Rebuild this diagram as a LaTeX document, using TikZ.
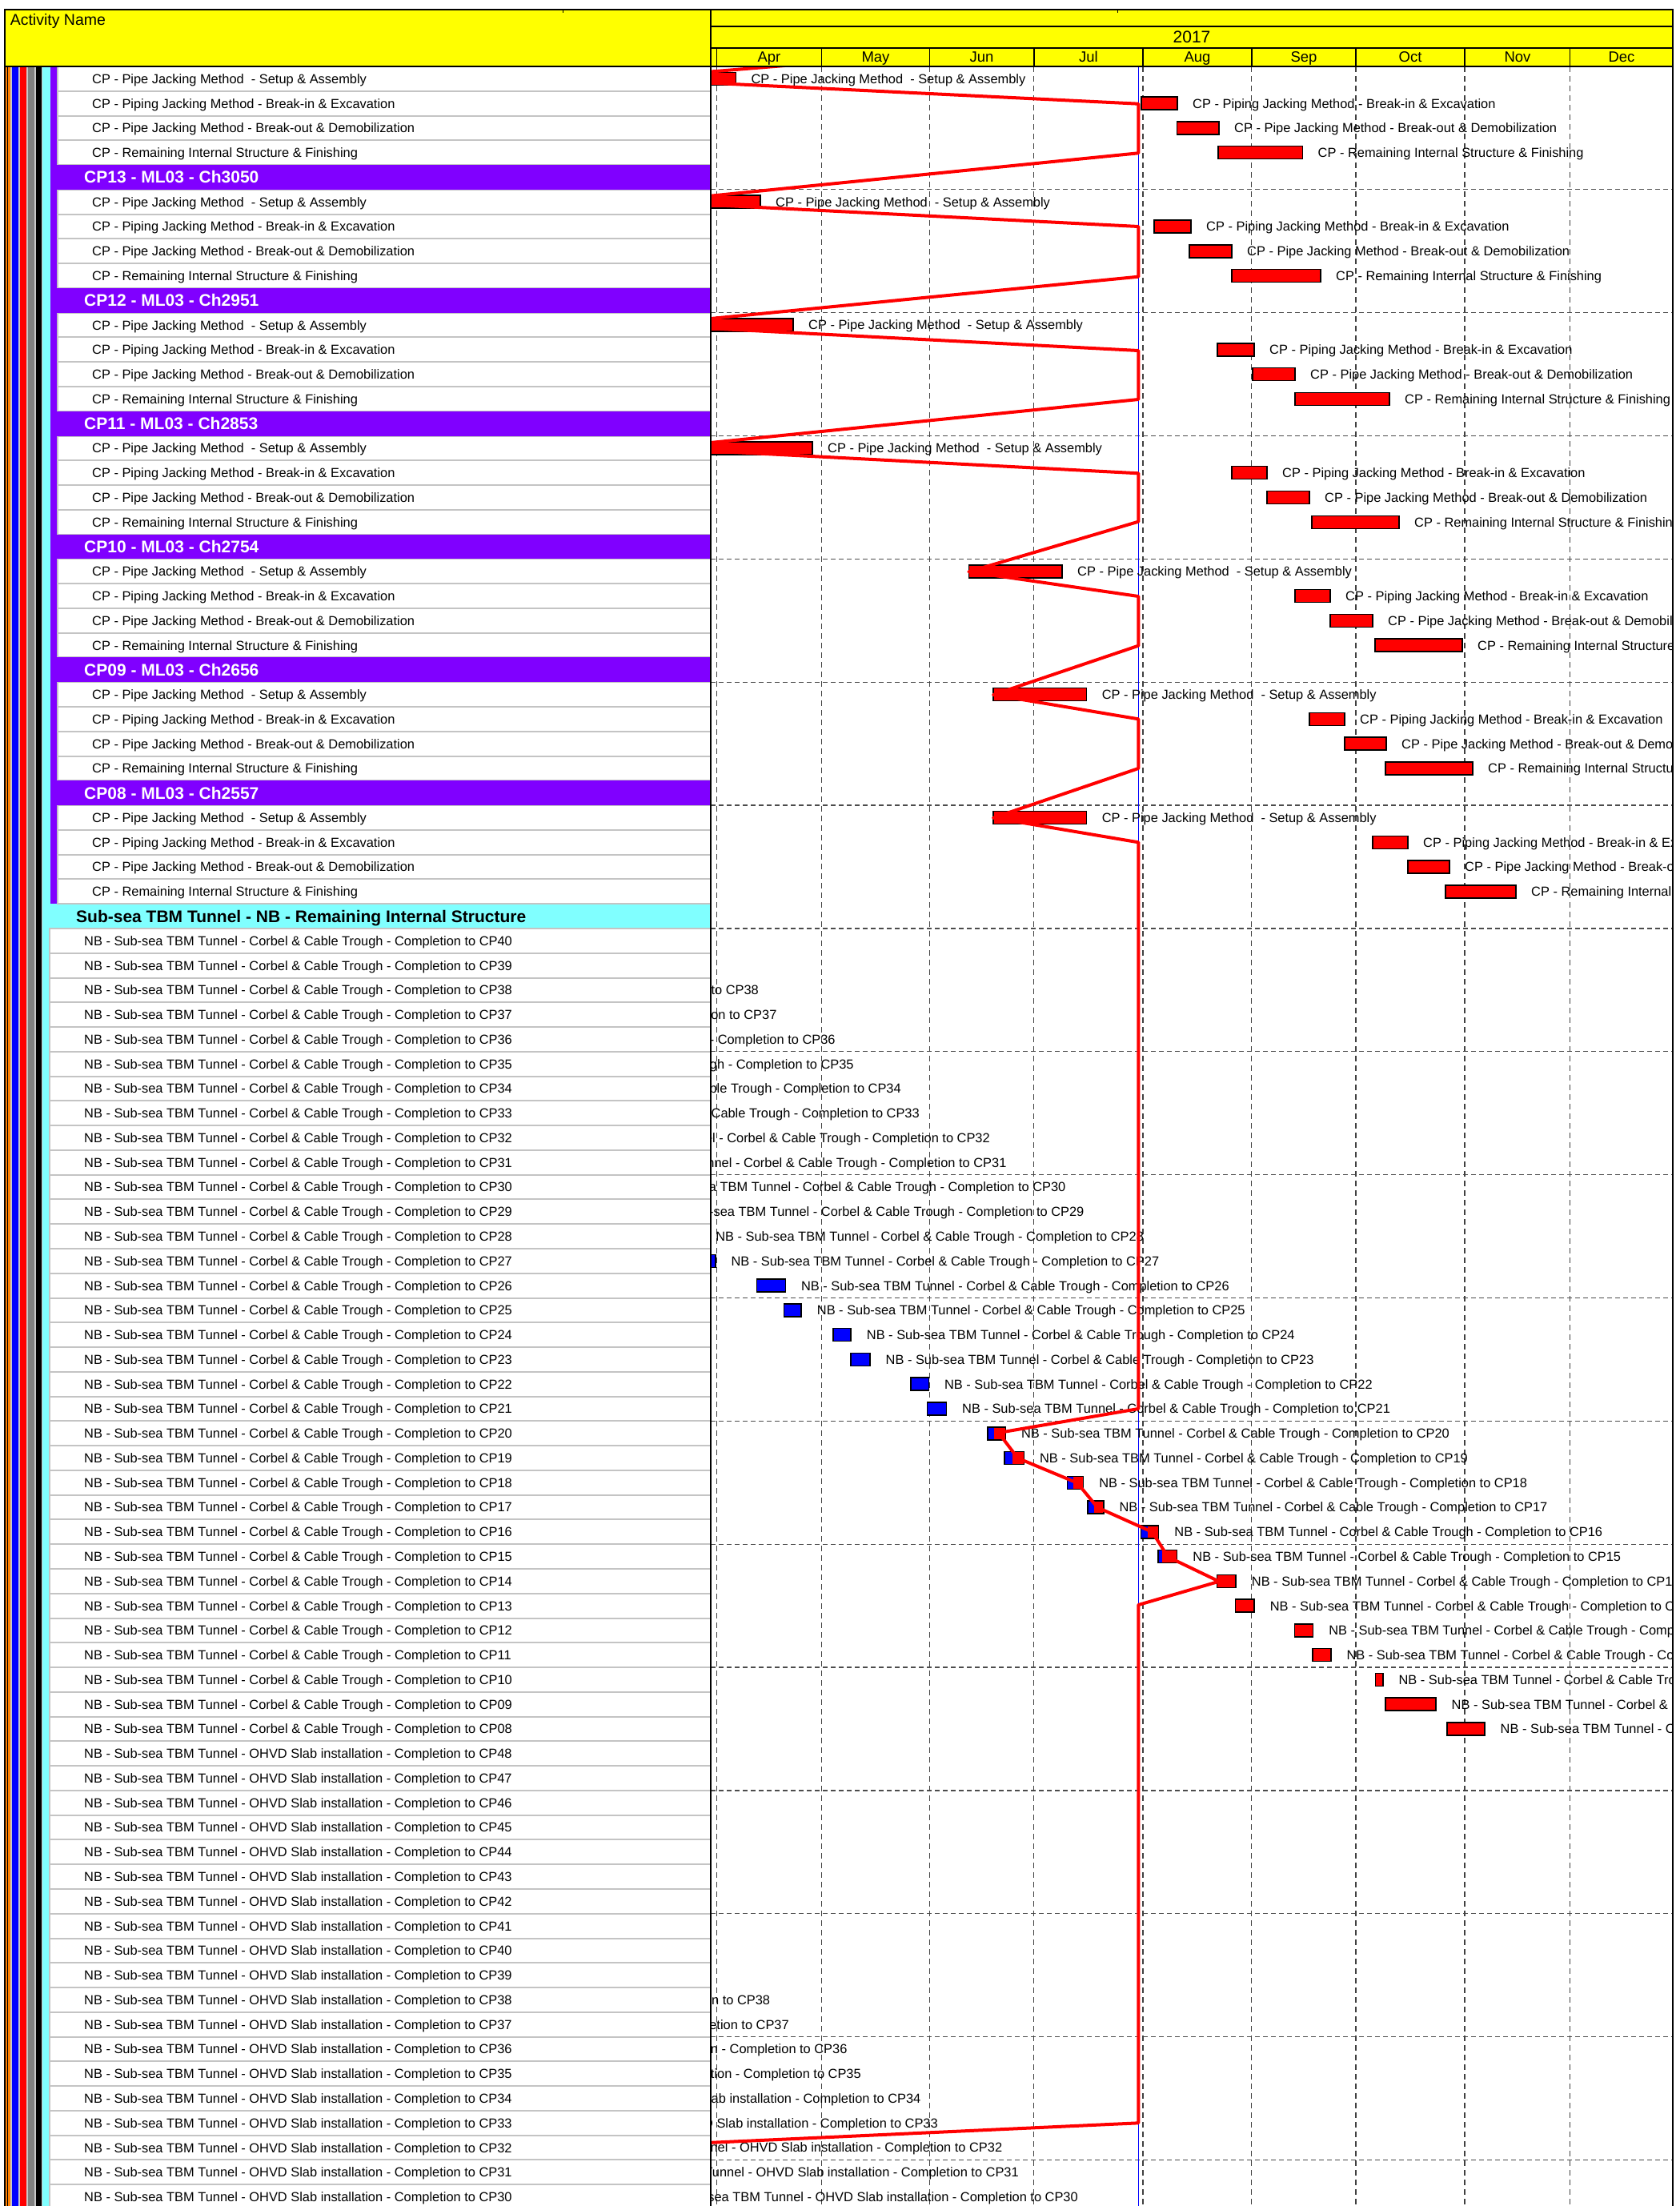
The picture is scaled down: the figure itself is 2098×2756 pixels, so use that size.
\documentclass[tikz,border=0pt]{standalone}
\usepackage{fontspec}
\setmainfont{Liberation Sans}
\definecolor{pgrey}{HTML}{C4C4C4}
\definecolor{gapg}{HTML}{C8C8C8}
\definecolor{purp}{HTML}{8000FF}
\definecolor{cyanb}{HTML}{80FFFF}
\definecolor{orng}{HTML}{FF8000}
\definecolor{yel}{HTML}{FFFF00}
\newcommand\txtA{CP - Pipe Jacking Method~ - Setup \& Assembly}
\newcommand\txtB{CP - Piping Jacking Method - Break-in \& Excavation}
\newcommand\txtC{CP - Pipe Jacking Method - Break-out \& Demobilization}
\newcommand\txtD{CP - Remaining Internal Structure \& Finishing}
\newcommand\txtCor{NB - Sub-sea TBM Tunnel - Corbel \& Cable Trough - Completion to CP}
\newcommand\txtOh{NB - Sub-sea TBM Tunnel - OHVD Slab installation - Completion to CP}
\begin{document}
\begin{tikzpicture}[x=1pt,y=-1pt,
  tsk/.style={anchor=base west, inner sep=0pt, font=\fontsize{16.4}{19}\selectfont},
  tskE/.style={anchor=base east, inner sep=0pt, font=\fontsize{16.4}{19}\selectfont},
  grp/.style={anchor=base west, inner sep=0pt, font=\fontsize{21}{24}\selectfont\bfseries},
  hdr/.style={anchor=base, inner sep=0pt, font=\fontsize{18.5}{21}\selectfont},
  barframe/.style={draw=black, line width=1.5pt},
  mgrid/.style={draw=black!75, line width=1.2pt, dash pattern=on 7pt off 5pt},
  hgrid/.style={draw=black!70, line width=1.3pt, dash pattern=on 6pt off 4pt},
  rowbox/.style={fill=white, draw=pgrey, line width=2pt},
  prog/.style={draw=red, line width=4pt, line join=round}]
\useasboundingbox (0,0) rectangle (2098,2756);
\fill[white] (0,0) rectangle (2098,2756);

% ---------- left panel stripes ----------
\fill[orng] (6.7,83) rectangle (13.3,2756);
\draw[black, line width=0.7pt] (9.7,83) -- (9.7,2756);
\fill[gapg] (13.3,83) rectangle (15,2756);
\fill[blue] (15,83) rectangle (23.3,2756);
\fill[gapg] (23.3,83) rectangle (25,2756);
\fill[red] (25,83) rectangle (33.3,2756);
\fill[gapg] (33.3,83) rectangle (35,2756);
\fill[black!50] (35,83) rectangle (43.3,2756);
\fill[gapg] (43.3,83) rectangle (45,2756);
\fill[black] (45,83) rectangle (51.7,2756);
\fill[gapg] (51.7,83) rectangle (53.3,2756);
\fill[cyanb] (53.3,83) rectangle (888,2756);
\fill[purp] (63.3,83) rectangle (71.7,1129.2);

% CP group task rows
\foreach \g in {0,...,6}{
  \foreach \k/\t in {0/\txtA,1/\txtB,2/\txtC,3/\txtD}{
    \pgfmathtruncatemacro\r{5*\g+\k}
    \pgfmathsetmacro\yt{83+30.77*\r}
    \draw[rowbox] (71.7,\yt) rectangle (888,{\yt+30.77});
    \node[tsk] (n\r) at (115,{\yt+21.3}) {\t};
  }
}
% CP group headers
\foreach \r/\t in {4/CP13 - ML03 - Ch3050, 9/CP12 - ML03 - Ch2951, 14/CP11 - ML03 - Ch2853, 19/CP10 - ML03 - Ch2754, 24/CP09 - ML03 - Ch2656, 29/CP08 - ML03 - Ch2557}{
  \pgfmathsetmacro\yt{83+30.77*\r}
  \fill[purp] (63.3,\yt) rectangle (888,{\yt+30.77});
  \node[grp, text=white] (h\r) at (105,{\yt+22.9}) {\t};
}
% Sub-sea header
\node[grp] (h34) at (95,1152.1) {Sub-sea TBM Tunnel - NB - Remaining Internal Structure};
% Sub-sea rows
\foreach \r in {35,...,86}{
  \pgfmathsetmacro\yt{83+30.77*\r}
  \draw[rowbox] (62,\yt) rectangle (888,{\yt+30.77});
  \ifnum\r<68
    \pgfmathtruncatemacro\n{75-\r}
    \node[tsk] (n\r) at (105,{\yt+21.3}) {\txtCor\ifnum\n<10 0\fi\n};
  \else
    \pgfmathtruncatemacro\n{116-\r}
    \node[tsk] (n\r) at (105,{\yt+21.3}) {\txtOh\n};
  \fi
}

% ---------- chart area ----------
\begin{scope}
\clip (888,83) rectangle (2090,2756);
\foreach \k in {1,...,17}{
  \draw[hgrid] (888,{83+153.85*\k}) -- (2090,{83+153.85*\k});
}
\foreach \x in {895.3,1026.6,1161.3,1291.8,1428,1563.8,1694,1830,1961.6}{
  \draw[mgrid] (\x,83) -- (\x,2756);
}
\draw[blue, line width=1pt] (1422.3,83) -- (1422.3,2756);

% CP group bars
\foreach \r/\a/\b/\t in {
 0/780/919.4/\txtA, 1/1426/1471/\txtB, 2/1470.5/1523/\txtC, 3/1522/1627.5/\txtD,
 5/813/950/\txtA, 6/1442/1488/\txtB, 7/1486/1539/\txtC, 8/1539/1650/\txtD,
 10/806/991/\txtA, 11/1521/1567/\txtB, 12/1565/1618/\txtC, 13/1618/1736/\txtD,
 15/820/1015/\txtA, 16/1539/1583/\txtB, 17/1583/1636/\txtC, 18/1639/1748/\txtD,
 20/1210.3/1327/\txtA, 21/1618/1662/\txtB, 22/1662/1715/\txtC, 23/1718/1827/\txtD,
 25/1241/1357.6/\txtA, 26/1636/1680/\txtB, 27/1680/1732/\txtC, 28/1731/1840/\txtD,
 30/1241/1357.6/\txtA, 31/1715/1759/\txtB, 32/1759/1811/\txtC, 33/1806/1894/\txtD}{
  \pgfmathsetmacro\yc{83+30.77*(\r+0.5)}
  \fill[red] (\a,{\yc-8}) rectangle (\b,{\yc+8});
  \draw[barframe] (\a,{\yc-8}) rectangle (\b,{\yc+8});
  \node[tsk] (c\r) at ({\b+19},{\yc+5.9}) {\t};
}

% hidden-bar corbel labels
\foreach \r/\e/\n in {37/948.1/38, 38/970.7/37, 39/1043.8/36, 40/1066.8/35, 41/1126/34, 42/1149/33, 43/1237/32, 44/1257.7/31, 45/1331.6/30, 46/1354.6/29, 47/1429.2/28}{
  \pgfmathsetmacro\yc{83+30.77*(\r+0.5)}
  \node[tskE] (c\r) at (\e,{\yc+5.9}) {\txtCor\n};
}
% corbel bars (start / blue-red split / end)
\foreach \r/\a/\s/\b/\n in {48/860/893.8/893.8/27, 49/945.5/981.3/981.3/26, 50/979.7/1001.2/1001.2/25,
 51/1041/1063.2/1063.2/24, 52/1063.2/1087/1087/23, 53/1138/1160.3/1160.3/22, 54/1158.7/1182.5/1182.5/21,
 55/1234.2/1241.8/1256.4/20, 56/1255.2/1264.8/1279.4/19, 57/1333.7/1341.3/1353.6/18, 58/1359/1366.6/1378.9/17,
 59/1425.5/1434/1447.7/16, 60/1447/1452.3/1470.7/15, 61/1520.4/1520.4/1544.2/14, 62/1543.4/1543.4/1567.1/13,
 63/1617.7/1617.7/1640.6/12, 64/1639.9/1639.9/1662.8/11, 65/1718.3/1718.3/1727.9/10, 66/1731/1731/1794/09,
 67/1808/1808/1855/08}{
  \pgfmathsetmacro\yc{83+30.77*(\r+0.5)}
  \fill[blue] (\a,{\yc-8}) rectangle (\s,{\yc+8});
  \fill[red] (\s,{\yc-8}) rectangle (\b,{\yc+8});
  \draw[barframe] (\a,{\yc-8}) rectangle (\b,{\yc+8});
  \node[tsk] (c\r) at ({\b+19.5},{\yc+5.9}) {\txtCor\n};
}
% OHVD labels
\foreach \r/\e/\n in {78/962.3/38, 79/986/37, 80/1058.7/36, 81/1076/35, 82/1150.6/34, 83/1172/33, 84/1252.4/32, 85/1273/31, 86/1347/30}{
  \pgfmathsetmacro\yc{83+30.77*(\r+0.5)}
  \node[tskE] (c\r) at (\e,{\yc+5.9}) {\txtOh\n};
}

% progress line
\draw[prog] (1422.3,46) -- (779,98.4) -- (1422.3,129.7) -- (1422.3,191.3) -- (813,252.2)
 -- (1422.3,283) -- (1422.3,345.7) -- (805.7,406.1) -- (1422.3,438) -- (1422.3,499)
 -- (819.7,559.9) -- (1422.3,591.3) -- (1422.3,651.7) -- (1210.3,714.3) -- (1422.3,745)
 -- (1422.3,806.7) -- (1241,868) -- (1422.3,898.3) -- (1422.3,960) -- (1241,1021.7)
 -- (1422.3,1052.3) -- (1422.3,1760) -- (1247.6,1790) -- (1271.7,1821.7) -- (1346,1852.7)
 -- (1371.2,1883.3) -- (1439.7,1914) -- (1459.2,1945) -- (1523.1,1975.7) -- (1422.3,2005)
 -- (1422.3,2652.3) -- (600,2690);
\end{scope}

% ---------- header ----------
\fill[yel] (6,12) rectangle (2090,83);
\draw[line width=2.5pt] (6,12) rectangle (2090,83);
\draw[line width=2.5pt] (888,12) -- (888,83);
\draw[line width=2.5pt] (888,33) -- (2090,33);
\draw[line width=2.5pt] (888,60) -- (2090,60);
\foreach \x in {895.3,1026.6,1161.3,1291.8,1428,1563.8,1694,1830,1961.6}{
  \draw[line width=1.5pt] (\x,60) -- (\x,83);
}
\draw[line width=1pt] (703,12) -- (703,16);
\draw[line width=1pt] (1396.7,12) -- (1396.7,16);
\node[anchor=base west, inner sep=0pt, font=\fontsize{19.5}{22}\selectfont] (an) at (12.6,31.7) {Activity Name};
\node[anchor=base, inner sep=0pt, font=\fontsize{21}{24}\selectfont] (yr) at (1489,53.3) {2017};
\foreach \x/\m in {961/Apr,1094/May,1226.6/Jun,1360/Jul,1496/Aug,1629/Sep,1762/Oct,1896/Nov,2026/Dec}{
  \node[hdr] (m\m) at (\x,77.5) {\m};
}

% ---------- borders ----------
\draw[line width=2.5pt] (888,83) -- (888,2756);
\draw[line width=2pt] (2090,83) -- (2090,2756);
\draw[line width=1.5pt] (6,83) -- (6,2756);
\end{tikzpicture}
\end{document}
